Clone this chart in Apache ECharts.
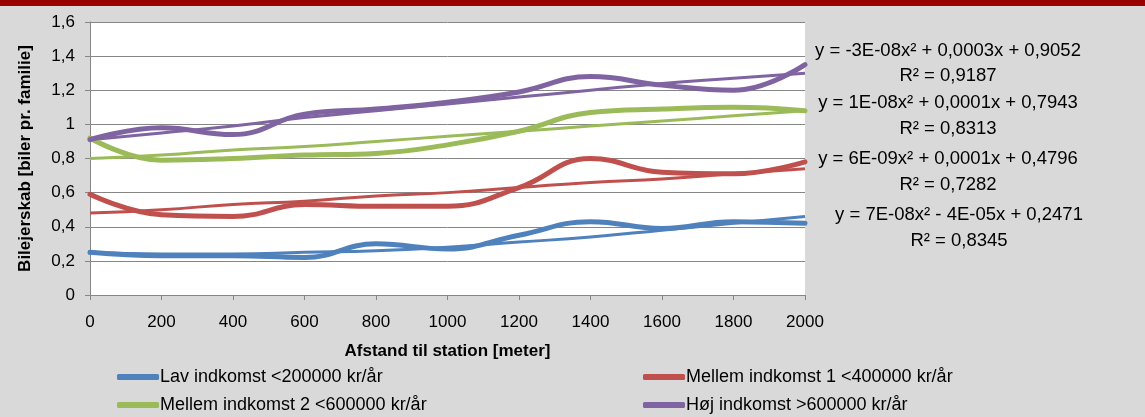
<!DOCTYPE html>
<html>
<head>
<meta charset="utf-8">
<script src="https://cdn.jsdelivr.net/npm/echarts@6/dist/echarts.min.js"></script>
<style>html,body{margin:0;padding:0;background:#d9d9d9;}#c{width:1145px;height:417px;}</style>
</head>
<body>
<div id="c"></div>
<script>
var distances = [0, 200, 400, 600, 800, 1000, 1200, 1400, 1600, 1800, 2000];
var yTickLabels = ['0', '0,2', '0,4', '0,6', '0,8', '1', '1,2', '1,4', '1,6'];
var seriesNames = ['Lav indkomst <200000 kr/år', 'Mellem indkomst 1 <400000 kr/år', 'Mellem indkomst 2 <600000 kr/år', 'Høj indkomst >600000 kr/år'];
var lav      = [0.25, 0.23, 0.23, 0.22, 0.30, 0.27, 0.35, 0.43, 0.39, 0.43, 0.42];
var mellem1  = [0.59, 0.47, 0.46, 0.53, 0.52, 0.52, 0.63, 0.80, 0.72, 0.71, 0.78];
var mellem2  = [0.92, 0.79, 0.80, 0.82, 0.83, 0.88, 0.96, 1.07, 1.09, 1.10, 1.08];
var hoej     = [0.91, 0.98, 0.94, 1.06, 1.09, 1.13, 1.19, 1.28, 1.23, 1.20, 1.35];
var trendLav     = [0.25, 0.24, 0.24, 0.25, 0.26, 0.28, 0.31, 0.34, 0.38, 0.42, 0.46];
var trendMellem1 = [0.48, 0.50, 0.53, 0.55, 0.58, 0.60, 0.63, 0.66, 0.68, 0.71, 0.74];
var trendMellem2 = [0.80, 0.82, 0.85, 0.87, 0.90, 0.93, 0.96, 0.99, 1.02, 1.05, 1.08];
var trendHoej    = [0.91, 0.95, 0.99, 1.04, 1.08, 1.12, 1.16, 1.20, 1.24, 1.27, 1.30];
var trendLabels = [
  ['y = -3E-08x² + 0,0003x + 0,9052', 'R² = 0,9187'],
  ['y = 1E-08x² + 0,0001x + 0,7943', 'R² = 0,8313'],
  ['y = 6E-09x² + 0,0001x + 0,4796', 'R² = 0,7282'],
  ['y = 7E-08x² - 4E-05x + 0,2471', 'R² = 0,8345']
];
var colors = ['#4f81bd', '#c0504d', '#9bbb59', '#8064a2'];

function pairs(arr) { return distances.map(function (d, i) { return [d, arr[i]]; }); }

var chart = echarts.init(document.getElementById('c'), null, {renderer: 'canvas'});
var FONT = 'Liberation Sans';
var dataSets = [lav, mellem1, mellem2, hoej];
var trendSets = [trendLav, trendMellem1, trendMellem2, trendHoej];
var series = [];
dataSets.forEach(function (d, i) {
  series.push({name: seriesNames[i], type: 'line', smooth: 0.45, symbol: 'none', data: pairs(d),
    lineStyle: {color: colors[i], width: 5, cap: 'round', join: 'round'}, itemStyle: {color: colors[i]}, z: 3});
});
trendSets.forEach(function (d, i) {
  series.push({name: 'trend' + i, type: 'line', smooth: true, symbol: 'none', data: pairs(d),
    lineStyle: {color: colors[i], width: 3}, itemStyle: {color: colors[i]}, z: 2});
});

var labelY = [[51, 76], [103, 129], [159, 185], [215, 241]];
var labelX = [948, 948, 948, 959];
var graphics = [{type: 'rect', shape: {x: 0, y: 0, width: 1145, height: 6}, style: {fill: '#990000'}, z: 10}];
trendLabels.forEach(function (t, i) {
  t.forEach(function (s, j) {
    graphics.push({type: 'text', x: labelX[i], y: labelY[i][j], style: {text: s, fill: '#000', font: '18.5px ' + FONT, align: 'center', verticalAlign: 'middle'}});
  });
});

var legendPos = [[112, 363], [638, 363], [112, 391], [638, 391]];
var legends = seriesNames.map(function (n, i) {
  return {data: [n], left: legendPos[i][0], top: legendPos[i][1], itemWidth: 42, itemHeight: 6, itemGap: 2,
    icon: 'roundRect', textStyle: {fontFamily: FONT, fontSize: 18, color: '#000', padding: [0, 0, 0, -4]}, selectedMode: false};
});

chart.setOption({
  backgroundColor: '#d9d9d9',
  animation: false,
  color: colors,
  grid: {left: 90, right: 340, top: 22, bottom: 122, show: true, backgroundColor: '#ffffff', borderWidth: 0},
  graphic: graphics,
  legend: legends,
  xAxis: {type: 'value', min: 0, max: 2000, interval: 200,
    name: 'Afstand til station [meter]', nameLocation: 'middle', nameGap: 48,
    nameTextStyle: {fontFamily: FONT, fontSize: 17, fontWeight: 'bold', color: '#000'},
    axisLine: {show: true, lineStyle: {color: '#868686', width: 1}},
    axisTick: {show: true, length: 5, lineStyle: {color: '#868686'}},
    axisLabel: {fontFamily: FONT, fontSize: 17, color: '#000', margin: 19,
      formatter: function (v) { return String(v); }},
    splitLine: {show: false}},
  yAxis: {type: 'value', min: 0, max: 1.6, interval: 0.2,
    name: 'Bilejerskab [biler pr. familie]', nameLocation: 'middle', nameGap: 56,
    nameTextStyle: {fontFamily: FONT, fontSize: 17, fontWeight: 'bold', color: '#000'},
    axisLine: {show: true, lineStyle: {color: '#868686', width: 1}},
    axisTick: {show: true, length: 5, lineStyle: {color: '#868686'}},
    axisLabel: {fontFamily: FONT, fontSize: 17, color: '#000', margin: 15,
      formatter: function (v) { return yTickLabels[Math.round(v / 0.2)]; }},
    splitLine: {show: true, lineStyle: {color: '#868686', width: 1}}},
  series: series
});
</script>
</body>
</html>
